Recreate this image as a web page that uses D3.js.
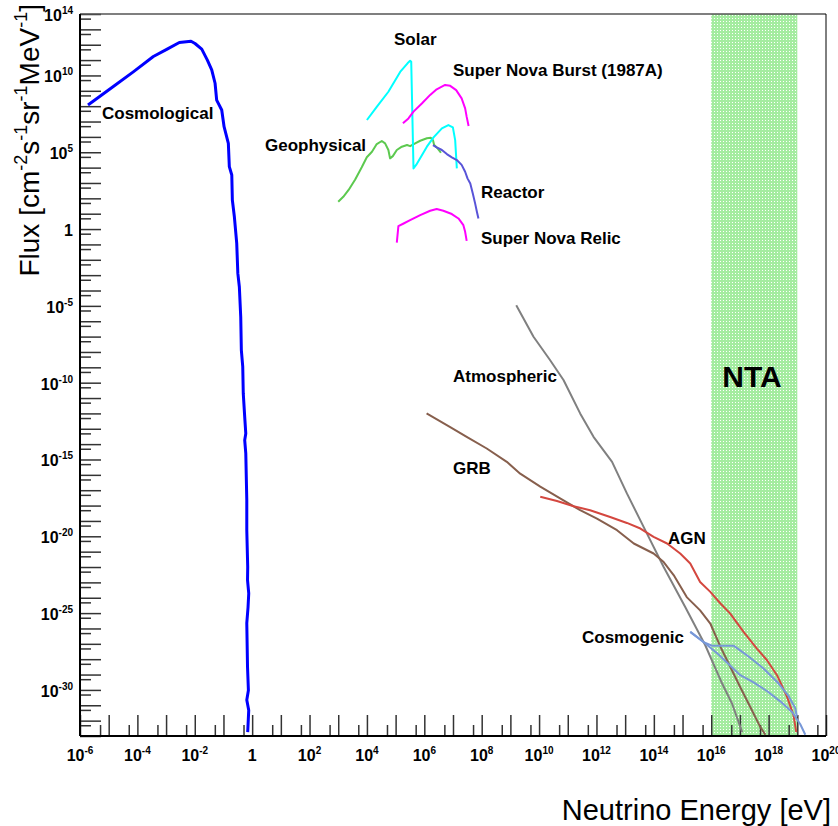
<!DOCTYPE html>
<html>
<head>
<meta charset="utf-8">
<script src="https://cdn.jsdelivr.net/npm/d3@7/dist/d3.min.js"></script>
<style>
body { margin:0; background:#fff; }
text { font-family:"Liberation Sans", Arial, Helvetica, sans-serif; }
</style>
</head>
<body>
<svg id="graph1"></svg>
<script>
// [energy eV, flux]
var cosmological = [[1.9e-6,1.2e8],[1.45e-5,1.9e9],[7.2e-5,1.7e10],[3.6e-4,1.7e11],[1.05e-3,5e11],
    [2.9e-3,1.4e12],[7.4e-3,1.7e12],[1.02e-2,1.2e12],[1.75e-2,5.2e11],[2.75e-2,1e11],[3.9e-2,2.3e10],
    [5.1e-2,3.1e9],[5.8e-2,2.5e8],[8.7e-2,5.6e7],[0.105,4.6e6],[0.148,3.8e5],[0.16,1.15e4],[0.195,3.3e3],
    [0.204,78],[0.24,6.3],[0.29,0.117],[0.317,1.3e-3],[0.358,1.7e-4],[0.40,1.9e-6],[0.42,1.3e-8],
    [0.47,1.1e-9],[0.49,2e-11],[0.55,6e-13],[0.60,4.9e-14],[0.55,1.8e-14],[0.60,2.5e-15],[0.65,2.2e-18],
    [0.65,2.5e-20],[0.70,1e-22],[0.69,1.4e-23],[0.76,1.9e-24],[0.72,2.5e-25],[0.65,2.2e-26],[0.69,3e-29],
    [0.74,9.5e-31],[0.65,2.2e-31],[0.76,4.8e-32],[0.70,1.8e-33]];
var solar = [[1e4,1.26e7],[2.2e4,9.1e7],[5.6e4,8.7e8],[1.44e5,1.7e10],[2.6e5,6.2e10],[3.2e5,9.1e10],
    [3.5e5,7.8e10],[4.2e5,8.9e3],[5.2e5,1.5e4],[1.23e6,2.3e5],[2.1e6,9.3e5],[4.1e6,3.6e6],[6.9e6,5.9e6],
    [9.9e6,4.2e6],[1.19e7,6.2e5],[1.36e7,8.9e3]];
var superNovaBurst = [[1.8e5,7.6e6],[2.8e5,1.6e7],[4.2e5,4.4e7],[8.2e5,1.5e8],[1.6e6,5.4e8],[2.7e6,1.26e9],
    [5.3e6,2.4e9],[8e6,2.1e9],[1.29e7,1.1e9],[2e7,3.2e8],[2.65e7,7.2e7],[3e7,2e7],[3.5e7,5.1e6]];
var superNovaRelic = [[1.1e5,0.13],[1.25e5,1.55],[1.9e5,2.3],[3.2e5,3.8],[7.2e5,8.1],[1.6e6,15.5],[2.7e6,20],
    [4.6e6,15.5],[9.1e6,9.5],[1.55e7,4.9],[2.3e7,1.8],[2.65e7,0.66],[3e7,0.17]];
var geophysical = [[1e3,60],[1.5e3,126],[2.3e3,350],[3.9e3,1.7e3],[6.6e3,1.05e4],[9.9e3,4.7e4],[1.5e4,1.07e5],
    [2.2e4,3.4e5],[3.3e4,5.4e5],[4.3e4,3.8e5],[5.6e4,1.4e5],[6.4e4,4e4],[8e4,5.6e4],[1.1e5,1.4e5],
    [1.65e5,2.3e5],[2.5e5,2.95e5],[3.2e5,2.5e5],[4.8e5,3.8e5],[7.2e5,5.6e5],[1.23e6,8.1e5],[1.7e6,8.7e5],
    [2e6,6.2e5],[2.2e6,2.95e5],[2.9e6,1.8e5],[3.8e6,9.3e4]];
var reactor = [[2e6,2.95e5],[2.7e6,2.1e5],[4.1e6,1.4e5],[6.1e6,7.6e4],[9.1e6,4.7e4],[1.36e7,3.1e4],[2e7,1.5e4],
    [2.65e7,5.4e3],[3.2e7,2e3],[4e7,930],[4.9e7,210],[5.9e7,47],[6.8e7,13.5],[7.7e7,4.9]];
var atmospheric = [[1.6e9,1.1e-5],[6.4e9,9.8e-8],[2.4e10,3e-9],[7.1e10,1.5e-10],[2.7e11,1e-12],[7.9e11,3e-14],
    [3.5e12,7e-16],[1.15e13,6.2e-18],[4.4e13,4.1e-20],[2.2e14,1e-22],[1.24e15,2.5e-25],[6.2e15,8.1e-28],
    [2.4e16,2.6e-30],[5.3e16,1.3e-31],[1.2e17,1.8e-33]];
var grb = [[1.2e6,1e-12],[8e6,1.3e-13],[3e7,3e-14],[1.5e8,5.2e-15],[7.5e8,7e-16],[2.2e9,1.2e-16],[1.1e10,1.7e-17],
    [5.4e10,2.9e-18],[2.7e11,5e-19],[1.04e12,1.4e-19],[5.2e12,2.5e-20],[2e13,3.4e-21],[9.8e13,7.6e-22],
    [2.2e14,2.1e-22],[4.9e14,3e-23],[1.4e15,1.1e-24],[4.1e15,1.5e-25],[9.3e15,2.1e-26],[2.1e16,6.3e-28],
    [4.6e16,3.2e-29],[1.03e17,1.5e-30],[2.3e17,7.8e-32],[5.1e17,3.9e-33],[7.7e17,1.2e-33]];
var agn = [[1.1e10,3.7e-18],[4.2e10,2e-18],[1.6e11,9.1e-19],[6e11,5e-19],[3e12,1.8e-19],[1.15e13,7.4e-20],
    [3.4e13,3.2e-20],[9.8e13,9.1e-21],[2.9e14,3.4e-21],[8.3e14,7.6e-22],[1.86e15,1.7e-22],[4.1e15,1.07e-23],
    [9.3e15,2.4e-24],[2.1e16,4.2e-25],[4.6e16,9.3e-26],[1.34e17,6e-27],[3.9e17,4.9e-28],[8.8e17,8.5e-29],
    [1.96e18,9.1e-30],[4.4e18,3.5e-31],[7.4e18,2.2e-32],[9.2e18,1.8e-33]];
var cosmogenicA = [[1.86e15,6e-27],[5.4e15,1.3e-27],[1.06e16,7.6e-28],[6e16,7.6e-28],[1.95e17,1.55e-28],
    [6.5e17,2.6e-29],[2.2e18,2.7e-30],[5e18,3.9e-31],[8.5e18,6.5e-32],[9.6e18,1.9e-32]];
var cosmogenicB = [[1.86e15,6e-27],[5.4e15,1.3e-27],[1.76e16,2.1e-28],[1.03e17,9.1e-30],[2.9e17,3.2e-30],
    [9e17,8.2e-31],[2.55e18,1.8e-31],[6.7e18,3.5e-32],[1.27e19,5.8e-33],[1.9e19,1.2e-33]];
var ntaRange = [1e16, 1e19];

var xLabelExps = [-6,-4,-2,0,2,4,6,8,10,12,14,16,18,20];
var yLabelExps = [14,10,5,0,-5,-10,-15,-20,-25,-30];

var screen = {width:838, height:826};
var margins = {top:14, bottom:90, left:80, right:12};
var graph = {
    width:screen.width-margins.left-margins.right,
    height:screen.height-margins.top-margins.bottom
};

var svg = d3.select("#graph1")
    .attr("width",screen.width)
    .attr("height",screen.height);

var xScale = d3.scaleLog().domain([1e-6,1e20]).range([0,graph.width]);
var yScale = d3.scaleLog().domain([1e-33,1e14]).range([graph.height,0]);

var g = svg.append("g")
    .attr("transform","translate("+margins.left+","+margins.top+")");

g.append("clipPath").attr("id","clip")
    .append("rect").attr("width",graph.width).attr("height",graph.height);

// dotted green fill for the NTA band
var pat = svg.append("defs").append("pattern")
    .attr("id","dots").attr("width",3).attr("height",3)
    .attr("patternUnits","userSpaceOnUse");
pat.append("rect").attr("width",3).attr("height",3).attr("fill","#a4eca0");
pat.append("rect").attr("x",1).attr("y",1).attr("width",1).attr("height",1).attr("fill","#ffffff");

g.append("rect")
    .attr("x",xScale(ntaRange[0]))
    .attr("y",0)
    .attr("width",xScale(ntaRange[1])-xScale(ntaRange[0]))
    .attr("height",graph.height)
    .attr("fill","url(#dots)");

// ticks
var decadesX = d3.range(-6,21).map(function(e){return Math.pow(10,e);});
var halfX = d3.range(-6,20).map(function(e){return 5*Math.pow(10,e);});
var decadesY = d3.range(-33,15).map(function(e){return Math.pow(10,e);});
var halfY = d3.range(-33,14).map(function(e){return 5*Math.pow(10,e);});

var tickAxis = function(axis,values,size,transform)
{
    var a = g.append("g")
        .attr("transform",transform)
        .call(axis.tickValues(values).tickSize(size).tickFormat(""));
    a.select(".domain").remove();
    a.selectAll("line").attr("stroke","#333").attr("stroke-width",1.5);
}
tickAxis(d3.axisBottom(xScale),decadesX,-21,"translate(0,"+graph.height+")");
tickAxis(d3.axisBottom(xScale),halfX,-11,"translate(0,"+graph.height+")");
tickAxis(d3.axisLeft(yScale),decadesY,-21,"translate(0,0)");
tickAxis(d3.axisLeft(yScale),halfY,-11,"translate(0,0)");

// frame
g.append("line").attr("x1",0).attr("x2",graph.width).attr("y1",0).attr("y2",0)
    .attr("stroke","#555").attr("stroke-width",1.5);
g.append("line").attr("x1",graph.width).attr("x2",graph.width).attr("y1",0).attr("y2",graph.height)
    .attr("stroke","#000").attr("stroke-width",1);
g.append("line").attr("x1",0).attr("x2",graph.width).attr("y1",graph.height).attr("y2",graph.height)
    .attr("stroke","#000").attr("stroke-width",2);
g.append("line").attr("x1",0).attr("x2",0).attr("y1",0).attr("y2",graph.height)
    .attr("stroke","#000").attr("stroke-width",2);

// tick labels
var powerLabel = function(sel,e)
{
    if (e==0) { sel.text("1"); return; }
    sel.append("tspan").text("10");
    sel.append("tspan").attr("dy",-7).attr("font-size",10).text(e);
}
xLabelExps.forEach(function(e)
{
    var t = g.append("text")
        .attr("x",xScale(Math.pow(10,e)))
        .attr("y",graph.height+25)
        .attr("text-anchor","middle")
        .attr("font-size",16).attr("font-weight","bold");
    powerLabel(t,e);
});
yLabelExps.forEach(function(e)
{
    var t = g.append("text")
        .attr("x",-7)
        .attr("y",yScale(Math.pow(10,e))+7)
        .attr("text-anchor","end")
        .attr("font-size",16).attr("font-weight","bold");
    powerLabel(t,e);
});

// curves
var curves = [
    {data:cosmological, color:"#0000ff", w:3},
    {data:geophysical, color:"#5cc94f", w:2},
    {data:solar, color:"#00ffff", w:2},
    {data:superNovaBurst, color:"#ff00ff", w:2},
    {data:superNovaRelic, color:"#ff00ff", w:2},
    {data:reactor, color:"#5954d8", w:2},
    {data:atmospheric, color:"#808080", w:2},
    {data:grb, color:"#875f4d", w:2},
    {data:agn, color:"#d4473f", w:2},
    {data:cosmogenicA, color:"#7898d8", w:2},
    {data:cosmogenicB, color:"#7898d8", w:2}
];
var lineGenerator = d3.line()
    .x(function(d){return xScale(d[0]);})
    .y(function(d){return yScale(d[1]);});

g.append("g").attr("clip-path","url(#clip)")
    .selectAll("path")
    .data(curves)
    .enter()
    .append("path")
    .attr("d",function(c){return lineGenerator(c.data);})
    .attr("fill","none")
    .attr("stroke",function(c){return c.color;})
    .attr("stroke-width",function(c){return c.w;})
    .attr("stroke-linejoin","round");

// curve names
var names = [
    {t:"Cosmological", x:102, y:119},
    {t:"Solar", x:394, y:45},
    {t:"Super Nova Burst (1987A)", x:453, y:76},
    {t:"Geophysical", x:265, y:151},
    {t:"Reactor", x:481, y:198},
    {t:"Super Nova Relic", x:481, y:244},
    {t:"Atmospheric", x:453, y:382},
    {t:"GRB", x:453, y:474},
    {t:"AGN", x:668, y:544},
    {t:"Cosmogenic", x:582, y:643}
];
svg.selectAll("text.name")
    .data(names)
    .enter()
    .append("text")
    .classed("name",true)
    .attr("x",function(d){return d.x;})
    .attr("y",function(d){return d.y;})
    .attr("font-size",17)
    .attr("font-weight","bold")
    .text(function(d){return d.t;});

svg.append("text")
    .attr("x",752).attr("y",387)
    .attr("text-anchor","middle")
    .attr("font-size",30).attr("font-weight","bold")
    .text("NTA");

// axis titles
svg.append("text")
    .attr("x",831).attr("y",820)
    .attr("text-anchor","end")
    .attr("font-size",29)
    .text("Neutrino Energy [eV]");

var yt = svg.append("text")
    .attr("transform","translate(39,4) rotate(-90)")
    .attr("text-anchor","end")
    .attr("font-size",28);
yt.append("tspan").text("Flux [cm");
yt.append("tspan").attr("dy",-12).attr("font-size",18).text("-2");
yt.append("tspan").attr("dy",12).text("s");
yt.append("tspan").attr("dy",-12).attr("font-size",18).text("-1");
yt.append("tspan").attr("dy",12).text("sr");
yt.append("tspan").attr("dy",-12).attr("font-size",18).text("-1");
yt.append("tspan").attr("dy",12).text("MeV");
yt.append("tspan").attr("dy",-12).attr("font-size",18).text("-1");
yt.append("tspan").attr("dy",12).text("]");
</script>
</body>
</html>
